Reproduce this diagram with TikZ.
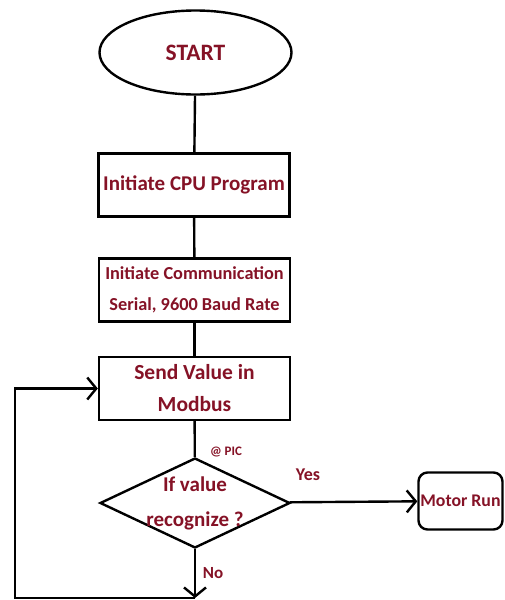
\documentclass[tikz,border=0pt]{standalone}
\usepackage{fontspec}
\setmainfont{Carlito}
\usepackage{tikz}
\usetikzlibrary{shapes.geometric,arrows.meta}
\definecolor{darkred}{RGB}{133,18,38}

\begin{document}
\begin{tikzpicture}[x=1pt,y=-1pt,line width=2.4pt,
    box/.style={draw,minimum width=191pt,minimum height=63pt,inner sep=0pt,align=center,
      text=darkred,font=\bfseries\fontsize{21}{31}\selectfont},
    term/.style={draw,ellipse,minimum width=192pt,minimum height=84pt,inner sep=0pt,
      text=darkred,font=\bfseries\fontsize{23.5}{26}\selectfont},
    decide/.style={draw,diamond,aspect=2.1,minimum width=190pt,minimum height=90pt,inner sep=-5pt,
      align=center,text=darkred,font=\bfseries\fontsize{21}{35}\selectfont},
    runbox/.style={draw,rounded corners=9pt,minimum width=84pt,minimum height=57pt,inner sep=0pt,
      text=darkred,font=\bfseries\fontsize{17.8}{20}\selectfont},
    lbl/.style={text=darkred,font=\bfseries\fontsize{18}{20}\selectfont},
    flow/.style={-{Straight Barb[length=9pt,width=22pt]}}]
      \useasboundingbox (0,0) rectangle (505,600);

      \node[term] (start) at (195.5,52.5) {START};
      \node[box] (cpu) at (194,185) {Initiate CPU Program};
      \node[box,font=\bfseries\fontsize{18.3}{31}\selectfont] (comm) at (194.5,290)
        {Initiate Communication\\Serial, 9600 Baud Rate};
      \node[box,font=\bfseries\fontsize{21.5}{32}\selectfont] (send) at (194.5,388.5)
        {Send Value in\\Modbus};
      \node[decide] (dec) at (195,503) {If value\\recognize ?};
      \node[runbox] (motor) at (460.5,501) {Motor Run};

      \draw (start) -- (cpu);
      \draw (cpu) -- (comm);
      \draw (comm) -- (send);
      \draw (send) -- (dec);

      \draw[flow] (dec) -- (motor);
      \node[lbl] (yes) at (308,475) {Yes};

      \coordinate (c1) at (195,598);
      \coordinate (c2) at (15,598);
      \draw[flow] (dec) -- (c1);
      \node[lbl,font=\bfseries\fontsize{17}{20}\selectfont] (no) at (213,573) {No};
      \draw[flow] (c1) -- (c2) |- (send.west);

      \node[text=darkred,font=\bfseries\fontsize{13}{14}\selectfont] (pic) at (226,452) {@ PIC};
\end{tikzpicture}
\end{document}
